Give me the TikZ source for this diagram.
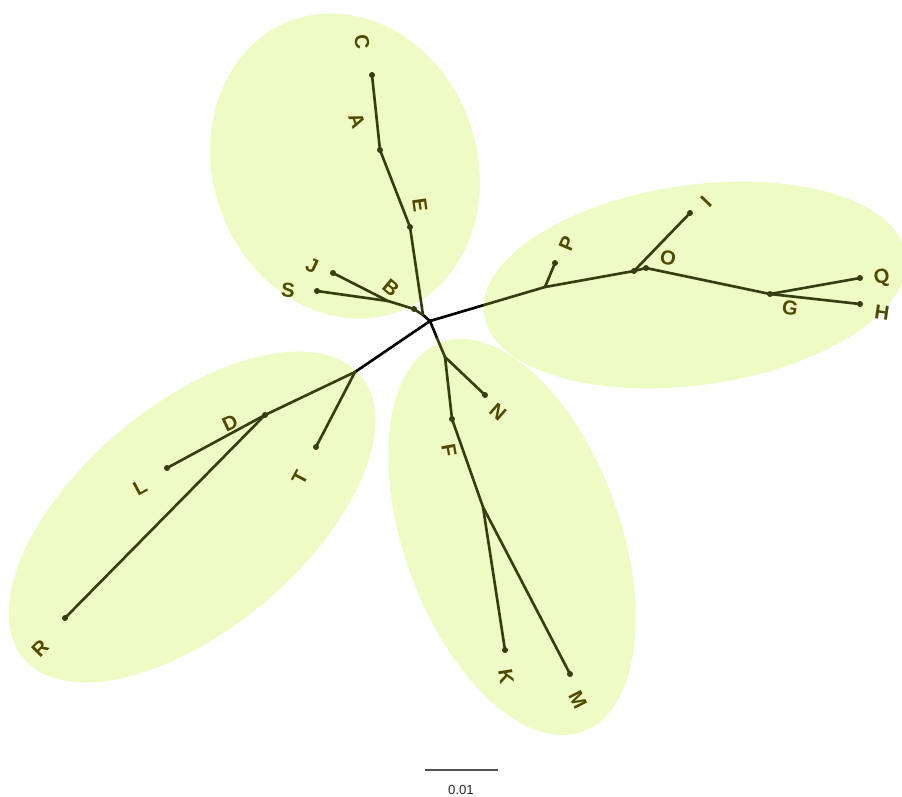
\documentclass[tikz,border=0pt]{standalone}
\usepackage{fontspec}
\setmainfont{Liberation Sans}
\definecolor{leafgreen}{RGB}{238,251,197}
\definecolor{twig}{RGB}{52,62,16}
\definecolor{tiptext}{RGB}{80,74,0}
\definecolor{bargray}{RGB}{80,80,80}
\usetikzlibrary{calc}

\begin{document}
\begin{tikzpicture}[x=0.02cm,y=-0.02cm,
    branch/.style={line width=1.5pt,twig,line cap=round},
    outer/.style={line width=1.5pt,black},
    lab/.style={font=\fontsize{11.5}{13}\selectfont\bfseries,text=tiptext,inner sep=0pt}]
  \useasboundingbox (0,0) rectangle (902,796);
  % Cluster shading
  \fill[leafgreen,rotate around={20:(345,166)}] (345,166) ellipse [x radius=132, y radius=155];
  \fill[leafgreen,rotate around={8:(695,285)}] (695,285) ellipse [x radius=213, y radius=100];
  \fill[leafgreen,rotate around={40:(192,517)}] (192,517) ellipse [x radius=220, y radius=112];
  \fill[leafgreen,rotate around={20:(512,537)}] (512,537) ellipse [x radius=108, y radius=207];
  % Tree points
  \coordinate (root) at (430,321);
  \coordinate (tj)   at (423,315);
  \coordinate (En)   at (410,227);
  \coordinate (An)   at (380,150);
  \coordinate (C)    at (372,75);
  \coordinate (Bn)   at (414,309);
  \coordinate (JSn)  at (388,301);
  \coordinate (J)    at (333,273);
  \coordinate (S)    at (317,291);
  \coordinate (rb)   at (484,305);
  \coordinate (Pn)   at (545,287);
  \coordinate (P)    at (555,263);
  \coordinate (In)   at (634,271);
  \coordinate (On)   at (646,268);
  \coordinate (I)    at (690,213);
  \coordinate (Gn)   at (770,294);
  \coordinate (Q)    at (860,278);
  \coordinate (H)    at (860,304);
  \coordinate (DTn)  at (355,372);
  \coordinate (Dn)   at (265,415);
  \coordinate (L)    at (167,468);
  \coordinate (R)    at (65,618);
  \coordinate (T)    at (316,447);
  \coordinate (bb)   at (437,338);
  \coordinate (Nn)   at (445,357);
  \coordinate (N)    at (485,395);
  \coordinate (Fn)   at (452,419);
  \coordinate (KMn)  at (483,507);
  \coordinate (K)    at (505,650);
  \coordinate (M)    at (570,674);
  % Backbone between clusters
  \draw[outer] (tj) -- (root) -- (rb);
  \draw[outer] (DTn) -- (root) -- (bb);
  % Branches
  \draw[branch] (C) -- (An) -- (En) -- (tj);
  \draw[branch] (J) -- (JSn) -- (Bn) -- (tj);
  \draw[branch] (S) -- (JSn);
  \draw[branch] (rb) -- (Pn) -- (In) -- (On) -- (Gn) -- (Q);
  \draw[branch] (Pn) -- (P);
  \draw[branch] (In) -- (I);
  \draw[branch] (Gn) -- (H);
  \draw[branch] (DTn) -- (Dn) -- (L);
  \draw[branch] (Dn) -- (R);
  \draw[branch] (DTn) -- (T);
  \draw[branch] (bb) -- (Nn) -- (N);
  \draw[branch] (Nn) -- (Fn) -- (KMn) -- (K);
  \draw[branch] (KMn) -- (M);
  % Dots
  \foreach \p in {C,An,En,Bn,J,S,P,In,On,I,Gn,Q,H,Dn,L,R,T,N,Fn,K,M}
    \fill[twig] (\p) circle [radius=3];
  % Labels
  \node[lab,rotate=-84] (labC) at (362,42)  {C};
  \node[lab,rotate=-69] (labA) at (357,121) {A};
  \node[lab,rotate=-82] (labE) at (420,205) {E};
  \node[lab,rotate=-25] (labJ) at (312,266) {J};
  \node[lab,rotate=-6]  (labS) at (288,290) {S};
  \node[lab,rotate=-40] (labB) at (391,288) {B};
  \node[lab,rotate=67]  (labP) at (567,244) {P};
  \node[lab,rotate=46]  (labI) at (706,202) {I};
  \node[lab,rotate=-10] (labO) at (668,258) {O};
  \node[lab,rotate=10]  (labQ) at (882,278) {Q};
  \node[lab,rotate=-8]  (labH) at (882,313) {H};
  \node[lab,rotate=-10] (labG) at (790,308) {G};
  \node[lab,rotate=25]  (labD) at (230,423) {D};
  \node[lab,rotate=28]  (labL) at (140,487) {L};
  \node[lab,rotate=62]  (labT) at (300,478) {T};
  \node[lab,rotate=45]  (labR) at (40,648)  {R};
  \node[lab,rotate=-41] (labN) at (498,412) {N};
  \node[lab,rotate=-80] (labF) at (449,450) {F};
  \node[lab,rotate=-81] (labK) at (506,677) {K};
  \node[lab,rotate=-63] (labM) at (578,700) {M};
  % Scale bar
  \coordinate (sbL) at (425,770);
  \coordinate (sbR) at (498,770);
  \draw[bargray,line width=1pt] (sbL) -- (sbR);
  \node[font=\fontsize{7.5}{9}\selectfont,text=black!85,inner sep=0pt] (sbtext) at (461,790) {0.01};
\end{tikzpicture}
\end{document}
